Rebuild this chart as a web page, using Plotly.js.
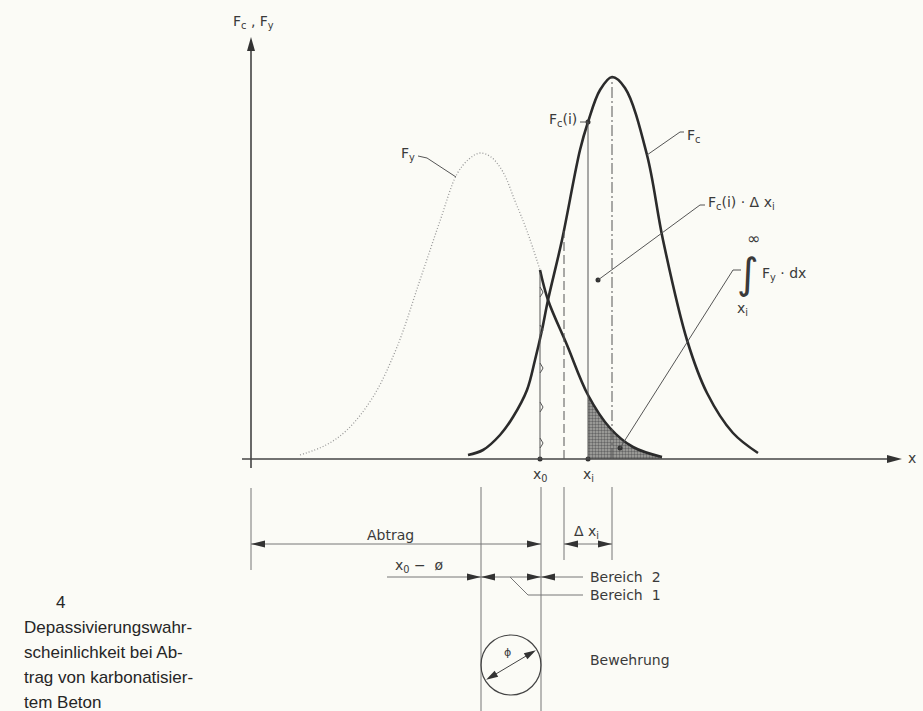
<!DOCTYPE html>
<html>
<head>
<meta charset="utf-8">
<script src="https://cdn.plot.ly/plotly-3.0.1.min.js"></script>
<style>
  html, body { margin: 0; padding: 0; background: #fbfbf6; }
  #chart { width: 923px; height: 711px; }
</style>
</head>
<body>
<div id="chart"></div>
<script>
// Schematic units: 1 unit = 1 px, origin where the two axes cross.

// F_c curve (solid, thick)
const FC_X = [217, 232, 249, 262, 276, 284, 291, 297, 311, 329, 337, 349, 361, 374, 396, 412, 436, 456, 482, 507];
const FC_Y = [4, 9, 24, 42, 69, 99, 129, 159, 219, 309, 337, 369, 382, 371, 304, 219, 119, 66, 26, 6];

// F_y curve, dotted part up to x0
const FY_X = [49, 75, 96, 122, 146, 169, 189, 206, 218, 229, 240, 252, 264, 276, 289];
const FY_Y = [4, 14, 29, 62, 112, 179, 238, 285, 300, 306, 302, 287, 258, 228, 189];

// F_y tail beyond x0 (solid, thick)
const TAIL_X = [289, 297, 316, 337, 359, 382, 411];
const TAIL_Y = [189, 159, 114, 64, 31, 12, 2];

// key x positions
const X0 = 289, X_DASH = 313, XI = 337, X_PEAK = 361, X_REBAR = 230, X_REBAR2 = 290;
const FCI = 337;          // F_c(i) value at xi
const DASH_TOP = 228;
const X0_BUMPS = [167, 129, 91, 52, 16];

// dimension rows below the axis
const Y_ABTRAG = -85, Y_BEREICH = -118, Y_BEREICH1 = -136;

// caption
const CAPTION = ["Depassivierungswahr-", "scheinlichkeit bei Ab-", "trag von karbonatisier-", "tem Beton"];

const INK = "#2b2b2b", THIN = "#555", TXT = "#3a3a3a";
const LBL = { family: "DejaVu Sans, sans-serif", size: 14, color: TXT };

const shapes = [];
function line(x0, y0, x1, y1, w, color, dash) {
  shapes.push({ type: "line", xref: "x", yref: "y", x0: x0, y0: y0, x1: x1, y1: y1,
    line: { color: color || THIN, width: w || 1, dash: dash || "solid" } });
}
function arrow(x, y, ang, len, half) {
  len = len || 14; half = half || 3.5;
  const c = Math.cos(ang), s = Math.sin(ang);
  const bx = x - c * len, by = y - s * len;
  const p = (u, v) => u.toFixed(2) + "," + v.toFixed(2);
  shapes.push({ type: "path", xref: "x", yref: "y",
    path: "M" + p(x, y) + " L" + p(bx - s * half, by + c * half) + " L" + p(bx + s * half, by - c * half) + " Z",
    fillcolor: "#333", line: { width: 0 } });
}
const R = 0, L = Math.PI, U = Math.PI / 2;

// axes
line(-9, 0, 645, 0, 1.6, "#444");
line(0, -9, 0, 412, 1.6, "#444");
arrow(651, 0, R, 15, 4);
arrow(0, 422, U, 14, 4);

// verticals in the plot
line(X0, 0, X0, TAIL_Y[0] - 3, 1, THIN);
line(X_DASH, 0, X_DASH, DASH_TOP, 1, THIN, "9px,4px");
line(XI, 0, XI, FCI, 1, THIN);
line(X_PEAK, 0, X_PEAK, FC_Y[FC_X.indexOf(X_PEAK)], 1, THIN, "11px,3px,2px,3px");

// extension lines below the axis
line(0, -29, 0, -111, 1, "#777");
line(X_REBAR, -28, X_REBAR, -252, 1, "#777");
line(X_REBAR2, -28, X_REBAR2, -252, 1, "#777");
line(X_DASH, -28, X_DASH, -101, 1, "#777");
line(X_PEAK, -28, X_PEAK, -101, 1, "#777");

// Abtrag and delta x_i
line(0, Y_ABTRAG, X_REBAR2, Y_ABTRAG, 1, "#777");
arrow(0, Y_ABTRAG, L); arrow(X_REBAR2, Y_ABTRAG, R);
line(X_DASH, Y_ABTRAG, X_PEAK, Y_ABTRAG, 1, "#777");
arrow(X_DASH, Y_ABTRAG, L); arrow(X_PEAK, Y_ABTRAG, R);

// Bereich row
line(136, Y_BEREICH, 332, Y_BEREICH, 1, "#777");
arrow(X_REBAR, Y_BEREICH, R); arrow(X_REBAR, Y_BEREICH, L);
arrow(X_REBAR2, Y_BEREICH, R); arrow(X_REBAR2, Y_BEREICH, L);
line(259, Y_BEREICH, 277, Y_BEREICH1, 1, "#777");
line(277, Y_BEREICH1, 332, Y_BEREICH1, 1, "#777");

// rebar circle
const CX = (X_REBAR + X_REBAR2) / 2, CY = -206, CR = 30;
shapes.push({ type: "circle", xref: "x", yref: "y", x0: CX - CR, x1: CX + CR, y0: CY - CR, y1: CY + CR,
  line: { color: "#444", width: 1.2 } });
const dAng = Math.atan2(31, 52);
line(CX - 26 * Math.cos(dAng), CY - 26 * Math.sin(dAng), CX + 26 * Math.cos(dAng), CY + 26 * Math.sin(dAng), 1, "#444");
arrow(CX + 29 * Math.cos(dAng), CY + 29 * Math.sin(dAng), dAng, 12, 3.5);
arrow(CX - 29 * Math.cos(dAng), CY - 29 * Math.sin(dAng), dAng + Math.PI, 12, 3.5);

// leaders
function leader(pts) {
  for (let i = 0; i < pts.length - 1; i++) line(pts[i][0], pts[i][1], pts[i + 1][0], pts[i + 1][1], 1, "#555");
}
leader([[167, 303], [176, 301], [205, 282]]);          // F_y
leader([[329, FCI], [XI, FCI]]);                        // F_c(i)
leader([[396, 304], [429, 327], [433, 327]]);           // F_c
leader([[347, 179], [449, 254], [454, 254]]);           // F_c(i) dx_i
leader([[369, 11], [482, 189], [490, 189]]);            // integral

// traces
const bx = [], by = [];
X0_BUMPS.forEach(function (y) {
  bx.push(X0, X0 + 2, X0 + 3, X0 + 2, X0, null);
  by.push(y + 5, y + 2, y, y - 2, y - 5, null);
});
const shadeIdx = TAIL_X.indexOf(XI);
const traces = [
  { x: TAIL_X.slice(shadeIdx), y: TAIL_Y.slice(shadeIdx), type: "scatter", mode: "lines",
    line: { width: 0, shape: "spline" }, fill: "tozeroy", fillcolor: "#9a9a96",
    fillpattern: { shape: ".", fgcolor: "#666", bgcolor: "#a9a9a5", size: 3, solidity: 0.5 } },
  { x: FY_X, y: FY_Y, type: "scatter", mode: "lines",
    line: { color: "#999", width: 1.3, dash: "1px,2px", shape: "spline", smoothing: 1 } },
  { x: FC_X, y: FC_Y, type: "scatter", mode: "lines",
    line: { color: INK, width: 2.6, shape: "spline", smoothing: 1 } },
  { x: TAIL_X, y: TAIL_Y, type: "scatter", mode: "lines",
    line: { color: INK, width: 2.6, shape: "spline", smoothing: 1 } },
  { x: bx, y: by, type: "scatter", mode: "lines", line: { color: THIN, width: 1 } },
  { x: [X0, XI, XI, 347, 369], y: [0, 0, FCI, 179, 11], type: "scatter", mode: "markers",
    marker: { color: "#333", size: 5 } },
];

function txt(x, y, text, opts) {
  return Object.assign({ x: x, y: y, xref: "x", yref: "y", text: text, showarrow: false, font: LBL }, opts || {});
}
const CAP = { family: "Liberation Sans, Arial, sans-serif", size: 17, color: "#262626" };
const annotations = [
  txt(2, 437, "F<sub>c</sub> , F<sub>y</sub>"),
  txt(655, 1, "x", { xanchor: "left" }),
  txt(157, 305, "F<sub>y</sub>"),
  txt(328, 339, "F<sub>c</sub>(i)", { xanchor: "right" }),
  txt(434, 323, "F<sub>c</sub>", { xanchor: "left" }),
  txt(455, 256, "F<sub>c</sub>(i) · Δ x<sub>i</sub>", { xanchor: "left" }),
  txt(502, 221, "∞", { font: { family: LBL.family, size: 16, color: TXT } }),
  txt(497, 186, "∫", { font: { family: LBL.family, size: 42, color: TXT } }),
  txt(509, 185, "F<sub>y</sub> · dx", { xanchor: "left" }),
  txt(491, 150, "x<sub>i</sub>"),
  txt(X0, -16, "x<sub>0</sub>"),
  txt(XI, -16, "x<sub>i</sub>"),
  txt(139, -76, "Abtrag"),
  txt(335, -73, "Δ x<sub>i</sub>"),
  txt(168, -107, "x<sub>0</sub> −  ø"),
  txt(337, Y_BEREICH, "Bereich  2", { xanchor: "left" }),
  txt(337, Y_BEREICH1, "Bereich  1", { xanchor: "left" }),
  txt(CX - 4, -193, "ϕ", { font: { family: LBL.family, size: 11, color: TXT } }),
  txt(337, -201, "Bewehrung", { xanchor: "left" }),
  txt(-191, -143, "4", { font: CAP }),
];
CAPTION.forEach(function (s, i) {
  annotations.push(txt(-229, -168 - 25 * i, s, { xanchor: "left", font: CAP }));
});

const layout = {
  width: 923, height: 711,
  margin: { l: 0, r: 0, t: 0, b: 0 },
  paper_bgcolor: "#fbfbf6", plot_bgcolor: "#fbfbf6",
  showlegend: false,
  xaxis: { range: [-251, 672], visible: false, fixedrange: true },
  yaxis: { range: [-252, 459], visible: false, fixedrange: true },
  shapes: shapes,
  annotations: annotations,
};

Plotly.newPlot("chart", traces, layout, { staticPlot: true, displayModeBar: false });
</script>
</body>
</html>
